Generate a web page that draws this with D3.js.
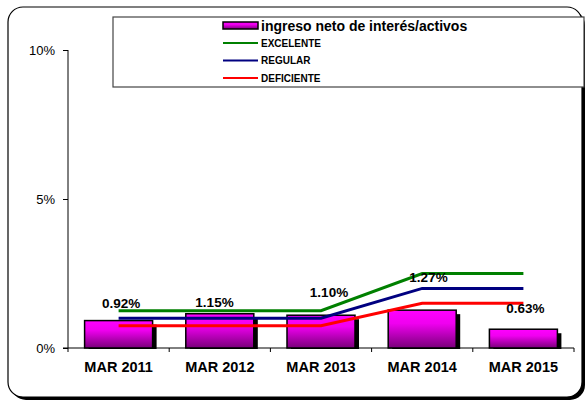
<!DOCTYPE html>
<html lang="es">
<head>
<meta charset="UTF-8">
<title>ingreso neto de interés/activos</title>
<script src="https://d3js.org/d3.v7.min.js"></script>
<style>
  body { margin: 0; background: #fff; font-family: "Liberation Sans", Arial, sans-serif; }
  svg text { font-family: "Liberation Sans", Arial, sans-serif; }
</style>
</head>
<body>
<div id="chart"></div>
<script>
// data
const periods = ["MAR 2011", "MAR 2012", "MAR 2013", "MAR 2014", "MAR 2015"];
const ingreso = [0.92, 1.15, 1.10, 1.27, 0.63];
const excelente = [1.25, 1.25, 1.25, 2.5, 2.5];
const regular = [1.0, 1.0, 1.0, 2.0, 2.0];
const deficiente = [0.75, 0.75, 0.75, 1.5, 1.5];
const yTicks = [0, 5, 10];

// hand nudges for the value labels (dx, dy from bar top)
const labelNudge = [[2.5, -12.7], [-5.3, -7], [8, -18.6], [6.3, -28.6], [2, -16.6]];

const W = 585, H = 403;
const svg = d3.select("#chart").append("svg")
    .attr("width", W).attr("height", H);

const defs = svg.append("defs");
const grad = defs.append("linearGradient")
    .attr("id", "barGrad").attr("x1", 0).attr("y1", 0).attr("x2", 0).attr("y2", 1);
grad.append("stop").attr("offset", "0%").attr("stop-color", "#ff00ff");
grad.append("stop").attr("offset", "35%").attr("stop-color", "#f000f0");
grad.append("stop").attr("offset", "100%").attr("stop-color", "#7a007a");

// frame with shadow
svg.append("rect").attr("x", 11).attr("y", 10).attr("width", 574).attr("height", 390)
    .attr("rx", 15).attr("fill", "#000");
svg.append("rect").attr("x", 8).attr("y", 7).attr("width", 574).attr("height", 390)
    .attr("rx", 15).attr("fill", "#fff").attr("stroke", "#000").attr("stroke-width", 1.2);

const x = d3.scaleBand().domain(periods).range([68, 574])
    .paddingInner(0.328).paddingOuter(0.164);
const y = d3.scaleLinear().domain([0, 10]).range([348, 50]);

// y axis
const yAxis = svg.append("g").attr("transform", "translate(68,0)")
    .call(d3.axisLeft(y).tickValues(yTicks).tickSize(5).tickPadding(8)
        .tickFormat(d => d + "%"));
yAxis.select(".domain").attr("stroke", "#000").attr("d", "M0,50V348");
yAxis.selectAll("text").attr("font-size", 13).attr("fill", "#000");

// x axis
const xAxis = svg.append("g").attr("transform", "translate(0,348)");
xAxis.append("line").attr("x1", 63).attr("x2", 574).attr("stroke", "#000");
xAxis.selectAll(".tk").data(periods.concat(["end"])).join("line")
    .attr("class", "tk")
    .attr("x1", (d, i) => 68 + x.step() * i).attr("x2", (d, i) => 68 + x.step() * i)
    .attr("y1", 0).attr("y2", 4).attr("stroke", "#000");
xAxis.selectAll(".lbl").data(periods).join("text")
    .attr("class", "lbl")
    .attr("x", d => x(d) + x.bandwidth() / 2).attr("y", 24)
    .attr("text-anchor", "middle").attr("font-size", 14.5).attr("font-weight", "bold")
    .text(d => d);

// bars
const bars = svg.append("g");
bars.selectAll(".shadow").data(ingreso).join("rect")
    .attr("class", "shadow")
    .attr("x", (d, i) => x(periods[i]) + 4)
    .attr("y", d => y(d) + 4)
    .attr("width", x.bandwidth())
    .attr("height", d => y(0) - y(d) - 3)
    .attr("fill", "#000");
bars.selectAll(".bar").data(ingreso).join("rect")
    .attr("class", "bar")
    .attr("x", (d, i) => x(periods[i]))
    .attr("y", d => y(d))
    .attr("width", x.bandwidth())
    .attr("height", d => y(0) - y(d))
    .attr("fill", "url(#barGrad)")
    .attr("stroke", "#000").attr("stroke-width", 1.5);

// reference lines
const series = [
  { name: "EXCELENTE", values: excelente, color: "#008000" },
  { name: "REGULAR", values: regular, color: "#000080" },
  { name: "DEFICIENTE", values: deficiente, color: "#ff0000" }
];
const line = d3.line()
    .x((d, i) => x(periods[i]) + x.bandwidth() / 2)
    .y(d => y(d));
svg.append("g").selectAll("path").data(series).join("path")
    .attr("d", s => line(s.values))
    .attr("fill", "none").attr("stroke", s => s.color).attr("stroke-width", 3);

// value labels
svg.append("g").selectAll("text").data(ingreso).join("text")
    .attr("x", (d, i) => x(periods[i]) + x.bandwidth() / 2 + labelNudge[i][0])
    .attr("y", (d, i) => y(d) + labelNudge[i][1])
    .attr("text-anchor", "middle").attr("font-size", 13.5).attr("font-weight", "bold")
    .text(d => d.toFixed(2) + "%");

// legend
const lg = svg.append("g");
lg.append("rect").attr("x", 113).attr("y", 17).attr("width", 471).attr("height", 70)
    .attr("fill", "#fff").attr("stroke", "#444").attr("stroke-width", 1.2);
lg.append("rect").attr("x", 223).attr("y", 22).attr("width", 35).attr("height", 7)
    .attr("fill", "url(#barGrad)").attr("stroke", "#000").attr("stroke-width", 1.5);
lg.append("text").attr("x", 261).attr("y", 31)
    .attr("font-size", 14).attr("font-weight", "bold").text("ingreso neto de interés/activos");
series.forEach((s, i) => {
  const yy = 43 + i * 17.5;
  lg.append("line").attr("x1", 223).attr("x2", 258).attr("y1", yy).attr("y2", yy)
      .attr("stroke", s.color).attr("stroke-width", 2);
  lg.append("text").attr("x", 261).attr("y", yy + 3.5)
      .attr("font-size", 10).attr("font-weight", "bold").text(s.name);
});
</script>
</body>
</html>
